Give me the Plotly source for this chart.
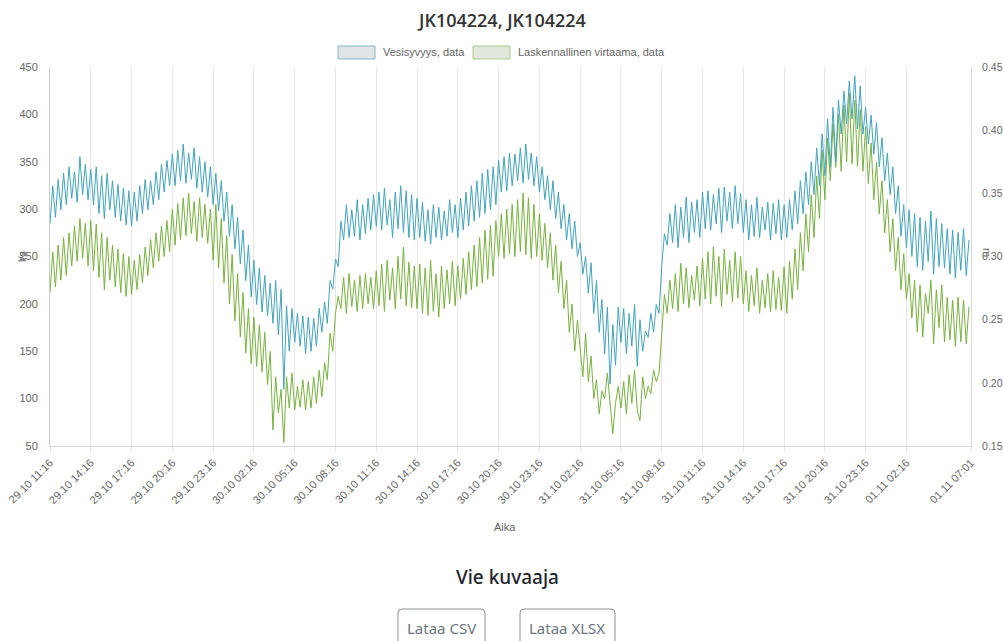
import pandas as pd
import plotly.graph_objects as go

# ---------------- data ----------------
TITLE = "JK104224, JK104224"
SERIES_NAMES = ["Vesisyvyys, data", "Laskennallinen virtaama, data"]
START_TIME = "2023-10-29 11:16"
END_TIME = "2023-11-01 07:01"
STEP = "12min"

# Vesisyvyys (m), right axis
depth_m = [
    0.326, 0.356, 0.331, 0.361, 0.337, 0.366, 0.341, 0.371, 0.346, 0.367, 0.343, 0.379, 0.349, 0.373, 0.345,
    0.369, 0.341, 0.371, 0.334, 0.364, 0.330, 0.366, 0.337, 0.360, 0.331, 0.357, 0.328, 0.354, 0.325, 0.352,
    0.324, 0.351, 0.328, 0.356, 0.334, 0.361, 0.337, 0.360, 0.341, 0.367, 0.345, 0.373, 0.351, 0.376, 0.356,
    0.381, 0.356, 0.384, 0.360, 0.389, 0.358, 0.382, 0.361, 0.386, 0.354, 0.379, 0.351, 0.375, 0.347, 0.371,
    0.341, 0.366, 0.336, 0.360, 0.328, 0.351, 0.316, 0.341, 0.306, 0.331, 0.294, 0.321, 0.281, 0.309, 0.268,
    0.297, 0.262, 0.291, 0.256, 0.285, 0.253, 0.279, 0.247, 0.281, 0.238, 0.274, 0.195, 0.261, 0.225, 0.259,
    0.232, 0.255, 0.229, 0.253, 0.223, 0.252, 0.225, 0.251, 0.229, 0.259, 0.240, 0.264, 0.247, 0.281, 0.274,
    0.298, 0.292, 0.328, 0.313, 0.341, 0.315, 0.337, 0.316, 0.345, 0.313, 0.341, 0.318, 0.346, 0.321, 0.349,
    0.324, 0.351, 0.321, 0.354, 0.325, 0.345, 0.315, 0.351, 0.322, 0.356, 0.319, 0.352, 0.315, 0.349, 0.313,
    0.346, 0.315, 0.343, 0.312, 0.337, 0.310, 0.341, 0.315, 0.339, 0.313, 0.336, 0.316, 0.345, 0.319, 0.341,
    0.315, 0.346, 0.321, 0.351, 0.324, 0.356, 0.328, 0.360, 0.331, 0.366, 0.334, 0.369, 0.337, 0.371, 0.341,
    0.376, 0.351, 0.379, 0.352, 0.382, 0.356, 0.381, 0.360, 0.386, 0.358, 0.389, 0.361, 0.382, 0.356, 0.379,
    0.351, 0.371, 0.345, 0.364, 0.337, 0.360, 0.330, 0.351, 0.322, 0.341, 0.313, 0.334, 0.306, 0.328, 0.300,
    0.311, 0.286, 0.300, 0.271, 0.295, 0.255, 0.281, 0.240, 0.266, 0.223, 0.260, 0.199, 0.246, 0.214, 0.260,
    0.232, 0.259, 0.223, 0.255, 0.229, 0.262, 0.213, 0.250, 0.225, 0.241, 0.236, 0.255, 0.240, 0.262, 0.255,
    0.292, 0.318, 0.309, 0.334, 0.311, 0.341, 0.307, 0.339, 0.315, 0.347, 0.311, 0.343, 0.319, 0.345, 0.315,
    0.351, 0.322, 0.352, 0.321, 0.349, 0.326, 0.354, 0.319, 0.355, 0.328, 0.351, 0.322, 0.356, 0.326, 0.350,
    0.319, 0.345, 0.313, 0.341, 0.316, 0.347, 0.315, 0.339, 0.321, 0.343, 0.313, 0.342, 0.318, 0.345, 0.313,
    0.341, 0.315, 0.345, 0.321, 0.352, 0.326, 0.360, 0.334, 0.367, 0.341, 0.375, 0.349, 0.386, 0.356, 0.397,
    0.364, 0.409, 0.371, 0.418, 0.375, 0.424, 0.397, 0.431, 0.405, 0.439, 0.409, 0.443, 0.401, 0.435, 0.397,
    0.418, 0.389, 0.412, 0.381, 0.406, 0.371, 0.394, 0.360, 0.382, 0.349, 0.371, 0.334, 0.356, 0.316, 0.341,
    0.307, 0.337, 0.300, 0.334, 0.292, 0.331, 0.289, 0.328, 0.296, 0.336, 0.286, 0.330, 0.292, 0.326, 0.291,
    0.322, 0.286, 0.321, 0.283, 0.319, 0.289, 0.322, 0.285, 0.313,
]

# Laskennallinen virtaama (l/s), left axis
flow_ls = [
    212, 255, 218, 262, 225, 270, 230, 275, 240, 282, 245, 290, 248, 285, 240,
    288, 235, 284, 228, 275, 215, 270, 225, 262, 218, 258, 212, 253, 208, 250,
    210, 246, 215, 252, 222, 260, 230, 268, 238, 275, 245, 282, 250, 288, 255,
    300, 262, 306, 268, 312, 272, 317, 274, 308, 266, 312, 270, 305, 264, 300,
    246, 305, 238, 290, 222, 272, 200, 252, 182, 232, 165, 212, 148, 195, 137,
    186, 134, 178, 128, 170, 115, 150, 67, 123, 85, 110, 54, 123, 90, 127,
    88, 113, 91, 120, 88, 118, 90, 123, 95, 130, 102, 138, 120, 169, 150,
    190, 208, 195, 228, 190, 232, 197, 225, 192, 230, 195, 232, 200, 228, 195,
    235, 198, 242, 192, 246, 204, 238, 195, 250, 205, 260, 198, 244, 196, 240,
    195, 242, 190, 238, 188, 246, 192, 232, 186, 240, 195, 236, 200, 245, 198,
    240, 205, 248, 210, 255, 215, 262, 218, 270, 222, 278, 226, 283, 229, 288,
    250, 295, 248, 300, 253, 305, 250, 310, 255, 317, 252, 312, 248, 305, 250,
    295, 246, 285, 238, 275, 225, 262, 212, 245, 195, 225, 170, 200, 150, 183,
    150, 123, 169, 118, 145, 100, 120, 84, 108, 100, 127, 90, 63, 95, 113,
    90, 118, 84, 125, 95, 130, 88, 77, 123, 100, 113, 105, 130, 118, 127,
    165, 210, 190, 225, 195, 232, 192, 243, 200, 238, 196, 230, 204, 240, 198,
    248, 205, 255, 200, 260, 208, 250, 197, 258, 210, 246, 202, 255, 206, 250,
    200, 235, 192, 230, 198, 238, 190, 225, 196, 232, 192, 235, 194, 228, 193,
    239, 190, 245, 205, 258, 215, 275, 235, 295, 255, 315, 270, 335, 290, 362,
    310, 375, 330, 390, 344, 400, 340, 410, 350, 422, 348, 415, 345, 405, 340,
    387, 327, 370, 310, 350, 295, 330, 275, 310, 255, 290, 235, 270, 215, 253,
    205, 232, 185, 225, 170, 220, 165, 211, 190, 225, 158, 215, 175, 220, 160,
    207, 162, 204, 155, 207, 160, 204, 158, 197,
]

tick_times = [
    "2023-10-29 11:16", "2023-10-29 14:16", "2023-10-29 17:16", "2023-10-29 20:16",
    "2023-10-29 23:16", "2023-10-30 02:16", "2023-10-30 05:16", "2023-10-30 08:16",
    "2023-10-30 11:16", "2023-10-30 14:16", "2023-10-30 17:16", "2023-10-30 20:16",
    "2023-10-30 23:16", "2023-10-31 02:16", "2023-10-31 05:16", "2023-10-31 08:16",
    "2023-10-31 11:16", "2023-10-31 14:16", "2023-10-31 17:16", "2023-10-31 20:16",
    "2023-10-31 23:16", "2023-11-01 02:16", "2023-11-01 07:01",
]
tick_labels = [
    "29.10 11:16", "29.10 14:16", "29.10 17:16", "29.10 20:16",
    "29.10 23:16", "30.10 02:16", "30.10 05:16", "30.10 08:16",
    "30.10 11:16", "30.10 14:16", "30.10 17:16", "30.10 20:16",
    "30.10 23:16", "31.10 02:16", "31.10 05:16", "31.10 08:16",
    "31.10 11:16", "31.10 14:16", "31.10 17:16", "31.10 20:16",
    "31.10 23:16", "01.11 02:16", "01.11 07:01",
]
left_range = [50, 450]
right_range = [0.15, 0.45]

# ---------------- layout helpers ----------------
W, H = 1003, 641
PL, PR, PT, PB = 50, 971, 67, 446  # plot area in pixels


def px(x):
    return (x - PL) / (PR - PL)


def py(y):
    return (PB - y) / (PB - PT)


times = pd.date_range(START_TIME, periods=len(flow_ls), freq=STEP)

BLUE = "#44a3bb"
GREEN = "#78b140"
TICK_FONT = dict(family="Liberation Sans, Arial, sans-serif", size=11, color="#666666")
RIGHT_FONT = dict(family="Liberation Sans, Arial, sans-serif", size=10.5, color="#666666")

fig = go.Figure()
fig.add_trace(go.Scatter(x=times, y=depth_m, name=SERIES_NAMES[0], mode="lines",
                         line=dict(color=BLUE, width=1), yaxis="y2"))
fig.add_trace(go.Scatter(x=times, y=flow_ls, name=SERIES_NAMES[1], mode="lines",
                         line=dict(color=GREEN, width=1), yaxis="y"))

fig.update_layout(
    width=W, height=H,
    margin=dict(l=PL, r=W - PR, t=PT, b=H - PB, pad=0, autoexpand=False),
    paper_bgcolor="white", plot_bgcolor="white",
    showlegend=False,
    xaxis=dict(
        type="date", range=[START_TIME, END_TIME],
        tickmode="array", tickvals=tick_times, ticktext=tick_labels,
        tickangle=-45, tickfont=TICK_FONT, automargin=False,
        showgrid=True, gridcolor="#e6e6e6", gridwidth=1,
        showline=True, linecolor="#dadada", linewidth=1,
        ticks="outside", ticklen=5, tickcolor="#e6e6e6",
        zeroline=False,
    ),
    yaxis=dict(
        range=left_range, dtick=50, tick0=50, tickfont=TICK_FONT, automargin=False,
        showgrid=False, zeroline=False,
        showline=True, linecolor="#cccccc", linewidth=1,
        ticklabelstandoff=9,
    ),
    yaxis2=dict(
        range=right_range, dtick=0.05, tick0=0.15, tickformat=".2f", automargin=False,
        tickfont=RIGHT_FONT, overlaying="y", side="right",
        showgrid=False, zeroline=False,
        showline=True, linecolor="#dadada", linewidth=1,
        ticklabelstandoff=8,
    ),
)

annotations = [
    dict(text=TITLE, x=px(501), y=py(20),
         font=dict(family="Open Sans", size=18, color="#333333", weight=600)),
    dict(text=SERIES_NAMES[0], x=px(381), y=py(52), xanchor="left", font=TICK_FONT),
    dict(text=SERIES_NAMES[1], x=px(516), y=py(52), xanchor="left", font=TICK_FONT),
    dict(text="Aika", x=px(505), y=py(527), font=TICK_FONT),
    dict(text="l/s", x=px(22), y=py(256), textangle=-90, font=TICK_FONT),
    dict(text="m", x=px(987), y=py(252), textangle=90, font=TICK_FONT),
    dict(text="Vie kuvaaja", x=px(507), y=py(577),
         font=dict(family="Noto Sans", size=19, color="#212529", weight=500)),
    dict(text="Lataa CSV", x=px(441), y=py(628),
         font=dict(family="Noto Sans", size=15, color="#6c757d")),
    dict(text="Lataa XLSX", x=px(567), y=py(628),
         font=dict(family="Noto Sans", size=15, color="#6c757d")),
]
for a in annotations:
    a.update(xref="paper", yref="paper", showarrow=False)
    a.setdefault("xanchor", "center")
    a.setdefault("yanchor", "middle")
fig.update_layout(annotations=annotations)


def rounded(x0, y0, x1, y1, r=4):
    rx, ry = r / (PR - PL), r / (PB - PT)
    X0, X1 = px(x0), px(x1)
    Y0, Y1 = py(y0), py(y1)  # Y0 top (higher), Y1 bottom
    return (f"M {X0 + rx},{Y0} L {X1 - rx},{Y0} Q {X1},{Y0} {X1},{Y0 - ry} "
            f"L {X1},{Y1 + ry} Q {X1},{Y1} {X1 - rx},{Y1} L {X0 + rx},{Y1} "
            f"Q {X0},{Y1} {X0},{Y1 + ry} L {X0},{Y0 - ry} Q {X0},{Y0} {X0 + rx},{Y0} Z")


shapes = [
    dict(type="rect", x0=px(338), x1=px(375), y0=py(59), y1=py(46),
         fillcolor="#dfe4e6", line=dict(color="#86b8c4", width=1)),
    dict(type="rect", x0=px(473), x1=px(510), y0=py(59), y1=py(46),
         fillcolor="#e2e7dd", line=dict(color="#a8cd8c", width=1)),
    dict(type="path", path=rounded(398, 609, 485, 652), fillcolor="rgba(0,0,0,0)",
         line=dict(color="#8a9096", width=1)),
    dict(type="path", path=rounded(520, 609, 615, 652), fillcolor="rgba(0,0,0,0)",
         line=dict(color="#8a9096", width=1)),
]
for s in shapes:
    s.update(xref="paper", yref="paper", layer="above")
fig.update_layout(shapes=shapes)

fig.write_html(
    "out.html",
    config={"displayModeBar": False, "staticPlot": True},
    post_script="document.body.style.margin='0';document.body.style.overflow='hidden';",
)
